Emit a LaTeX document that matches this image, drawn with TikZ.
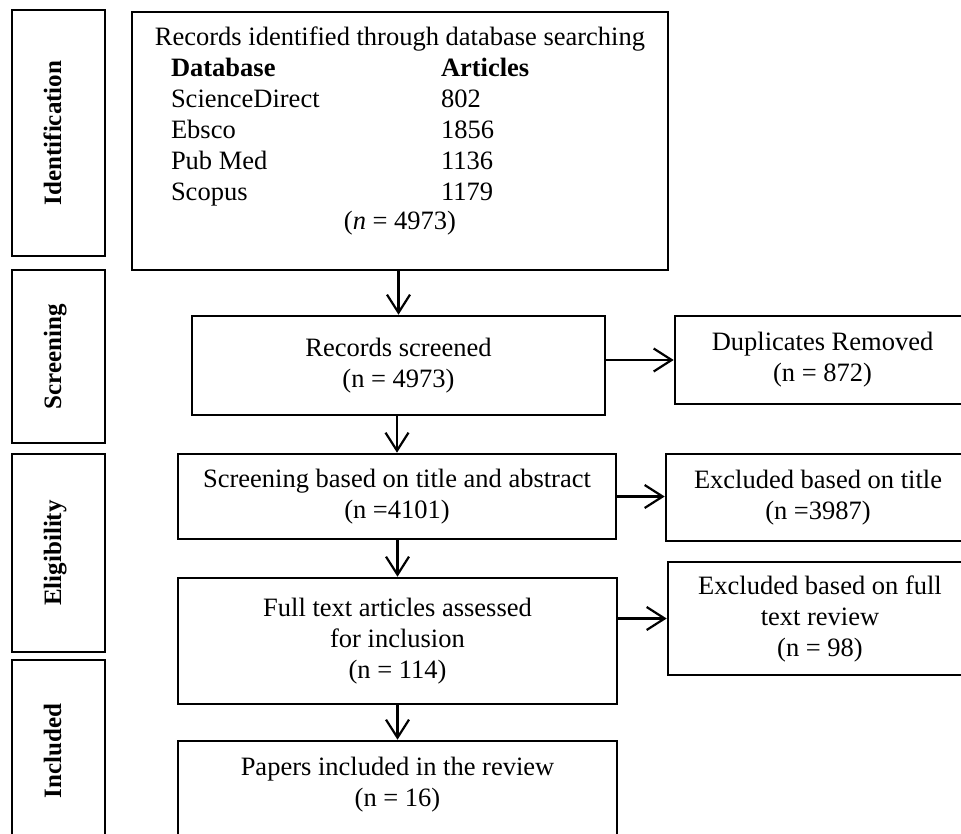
\documentclass[tikz,border=0pt]{standalone}
\usepackage{fontspec}
\setmainfont{Liberation Serif}
\usepackage{tikz}
\usetikzlibrary{arrows.meta}

\begin{document}
\begin{tikzpicture}[x=1pt,y=-1pt]
            \useasboundingbox (0,0) rectangle (961,834);
            \tikzset{box/.style={draw,line width=2.6pt,align=center,inner sep=0pt,font=\fontsize{26.5}{31}\selectfont},
                     phase/.style={box,rotate=90,text height=18pt,text depth=13pt,font=\fontsize{25}{30}\selectfont\bfseries},
                     flow/.style={line width=2.2pt,-{Straight Barb[length=18pt,width=23pt]}}};

            \node[phase,minimum width=246pt,minimum height=93pt] (identLbl) at (58.5,133) {Identification};
            \node[phase,minimum width=173pt,minimum height=93pt] (screenLbl) at (58.5,356.5) {Screening};
            \node[phase,minimum width=198pt,minimum height=93pt] (eligLbl) at (58.5,553) {Eligibility};
            \node[phase,minimum width=182pt,minimum height=93pt] (inclLbl) at (58.5,751) {Included};

            \node[box,minimum width=536pt,minimum height=258pt] (records) at (400,141)
                {Records identified through database searching\\
                 \begin{tabular}[t]{@{}p{270pt}@{}p{188pt}@{}}
                 \textbf{Database} & \textbf{Articles}\\
                 ScienceDirect & 802\\
                 Ebsco & 1856\\
                 Pub Med & 1136\\
                 Scopus & 1179
                 \end{tabular}\\
                 (\textit{n} = 4973)\\[-6pt]\mbox{}};
            \node[box,minimum width=413pt,minimum height=99pt] (screened) at (398.5,365.5) {Records screened\\(n = 4973)};
            \node[box,minimum width=295pt,minimum height=88pt] (dupl) at (822.5,360) {Duplicates Removed\\(n = 872)};
            \node[box,minimum width=438pt,minimum height=85pt] (titleScr) at (397,496.5) {Screening based on title and abstract\\(n =4101)};
            \node[box,minimum width=304pt,minimum height=87pt] (exTitle) at (818,497.5) {Excluded based on title\\(n =3987)};
            \node[box,minimum width=439pt,minimum height=126pt] (fullText) at (397.5,641) {Full text articles assessed\\for inclusion\\(n = 114)};
            \node[box,minimum width=304pt,minimum height=113pt] (exFull) at (820,618.5) {Excluded based on full\\text review\\(n = 98)};
            \node[box,minimum width=439pt,minimum height=112pt] (papers) at (397.5,797) {Papers included in the review\\(n = 16)\\\mbox{}};

            \draw[flow] (screened.north |- records.south) -- (screened.north);
            \draw[flow] (titleScr.north |- screened.south) -- (titleScr.north);
            \draw[flow] (fullText.north |- titleScr.south) -- (fullText.north);
            \draw[flow] (papers.north |- fullText.south) -- (papers.north);

            \draw[flow] (dupl.west -| screened.east) -- (dupl.west);
            \draw[flow] (titleScr.east) -- (titleScr.east -| exTitle.west);
            \draw[flow] (exFull.west -| fullText.east) -- (exFull.west);
\end{tikzpicture}
\end{document}
